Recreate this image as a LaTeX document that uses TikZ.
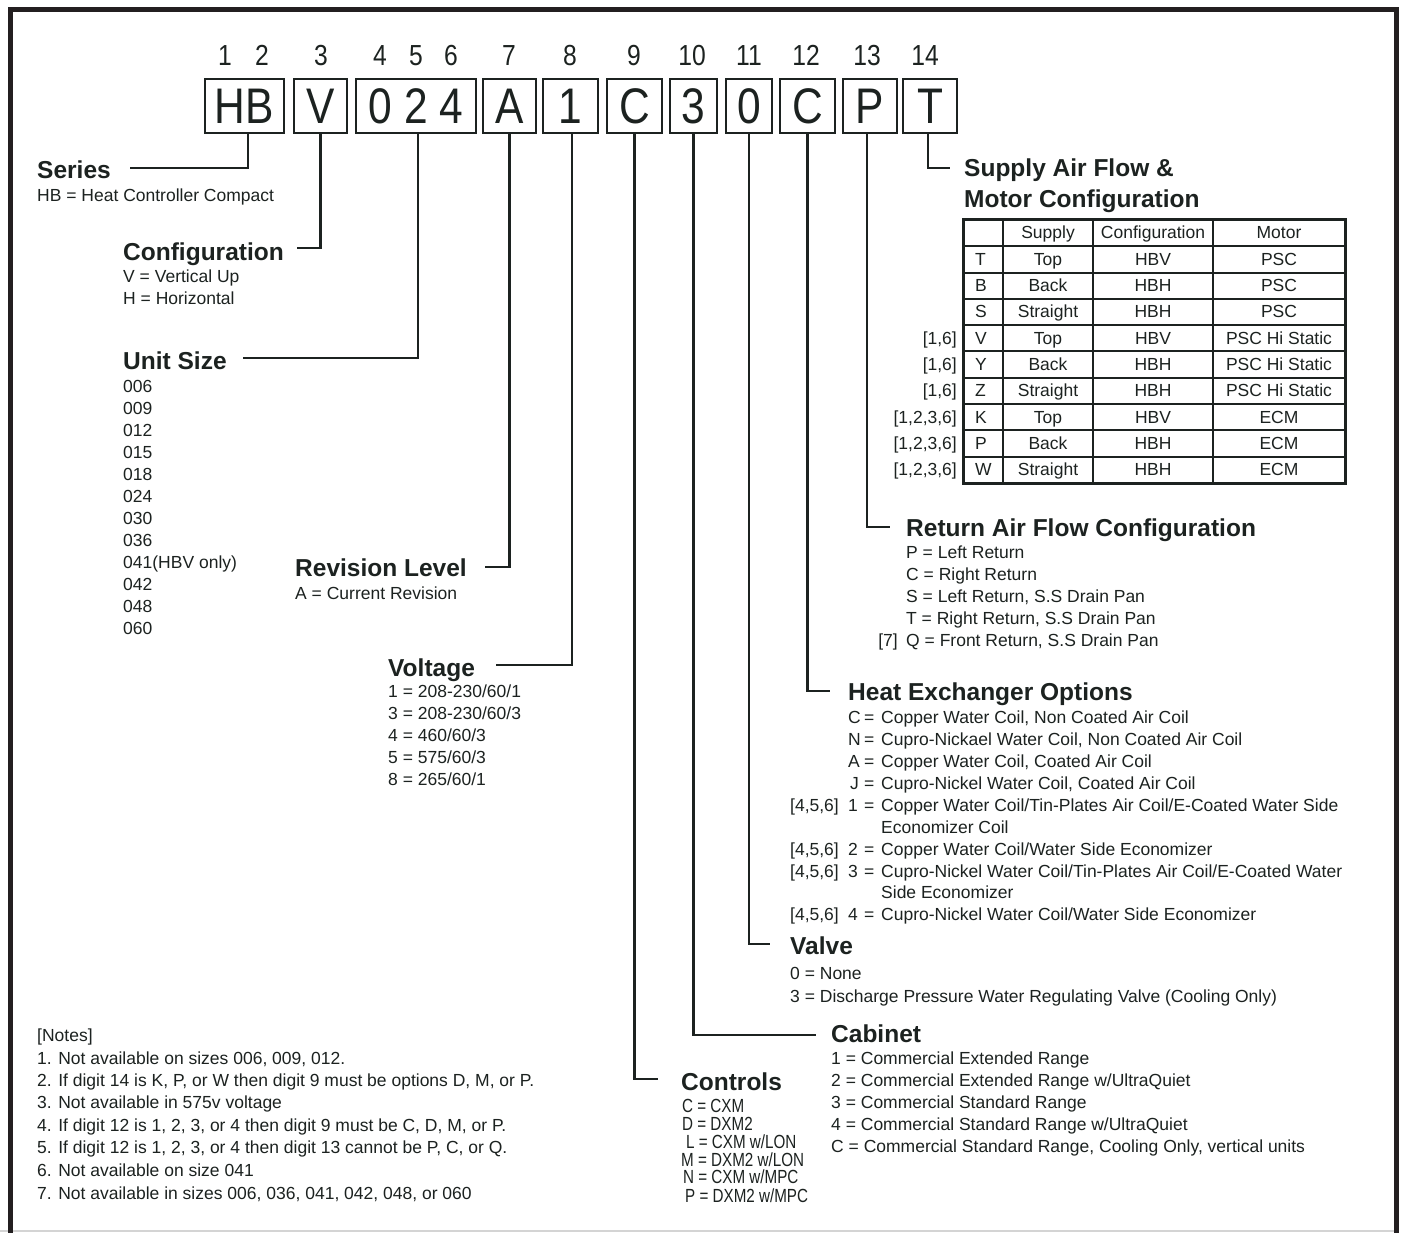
\documentclass[tikz,border=0pt]{standalone}
\usepackage{fontspec}
\setmainfont{Liberation Sans}
\newfontfamily\condfont[FakeStretch=0.85]{Liberation Sans}
\newfontfamily\narrowfont[FakeStretch=0.8]{Liberation Sans}
\definecolor{ink}{RGB}{28,34,32}
\definecolor{framec}{RGB}{35,31,32}
\definecolor{lightrule}{RGB}{212,212,212}
\begin{document}
\begin{tikzpicture}[x=1pt,y=-1pt,
  conn/.style={draw=ink,line width=2.4pt},
  dbox/.style={draw=ink,line width=2.4pt,minimum height=54pt,inner sep=0pt,text=ink,font=\condfont\fontsize{50}{50}\selectfont},
  dnum/.style={anchor=base,text=ink,inner sep=0pt,font=\condfont\fontsize{29}{29}\selectfont},
  hd/.style={anchor=base west,inner sep=0pt,text=ink,font=\fontsize{24.5}{26}\selectfont\bfseries},
  tx/.style={anchor=base west,inner sep=0pt,text=ink,font=\fontsize{17.5}{20}\selectfont},
  txr/.style={tx,anchor=base east},
  txc/.style={tx,anchor=base},
  cx/.style={anchor=base west,inner sep=0pt,text=ink,font=\narrowfont\fontsize{19}{19}\selectfont},
]
\useasboundingbox (0,0) rectangle (1401,1233);
\fill[white] (0,0) rectangle (1401,1233);
% frame
\draw[lightrule,line width=2pt] (0,1231) -- (1394,1231);
\draw[framec,line width=5pt] (10.5,1233) -- (10.5,9.5) -- (1396.5,9.5) -- (1396.5,1233);

% digit numbers
\node[dnum] (n1) at (225,65.5) {1};
\node[dnum] (n2) at (262,65.5) {2};
\node[dnum] (n3) at (321,65.5) {3};
\node[dnum] (n4) at (380,65.5) {4};
\node[dnum] (n5) at (416,65.5) {5};
\node[dnum] (n6) at (451,65.5) {6};
\node[dnum] (n7) at (509,65.5) {7};
\node[dnum] (n8) at (570,65.5) {8};
\node[dnum] (n9) at (634,65.5) {9};
\node[dnum] (n10) at (692,65.5) {10};
\node[dnum] (n11) at (749,65.5) {11};
\node[dnum] (n12) at (806,65.5) {12};
\node[dnum] (n13) at (867,65.5) {13};
\node[dnum] (n14) at (925,65.5) {14};

% code boxes
\node[dbox,minimum width=79pt] (bHB) at (244.5,106) {HB};
\node[dbox,minimum width=53pt] (bV) at (320.5,106) {V};
\node[dbox,minimum width=120pt] (b024) at (416,106) {0 2 4};
\node[dbox,minimum width=53pt] (bA) at (509.5,106) {A};
\node[dbox,minimum width=55pt] (b1) at (570.5,106) {1};
\node[dbox,minimum width=55pt] (bC1) at (634.5,106) {C};
\node[dbox,minimum width=47pt] (b3) at (693.5,106) {3};
\node[dbox,minimum width=46pt] (b0) at (749,106) {0};
\node[dbox,minimum width=55pt] (bC2) at (807.5,106) {C};
\node[dbox,minimum width=54pt] (bP) at (870,106) {P};
\node[dbox,minimum width=54pt] (bT) at (930,106) {T};

% headings
\node[hd] (series) at (37,179) {Series};
\node[hd] (config) at (123,261) {Configuration};
\node[hd] (usize) at (123,370) {Unit Size};
\node[hd] (rev) at (295,576) {Revision Level};
\node[hd] (volt) at (388,676) {Voltage};
\node[hd] (ctrl) at (681,1090) {Controls};
\node[hd] (cab) at (831,1042) {Cabinet};
\node[hd] (valve) at (790,954) {Valve};
\node[hd] (hex) at (848,700) {Heat Exchanger Options};
\node[hd] (ret) at (906,536) {Return Air Flow Configuration};
\node[hd] (sup1) at (964,177) {Supply Air Flow \&};
\node[hd] (sup2) at (964,208) {Motor Configuration};

% connector ends
\coordinate (eSeries) at (130,168);
\coordinate (eConfig) at (297,248);
\coordinate (eUnit) at (243,358);
\coordinate (eRev) at (485,567);
\coordinate (eVolt) at (496,665);
\coordinate (eCtrl) at (658,1079);
\coordinate (eCab) at (816,1035);
\coordinate (eValve) at (770,944);
\coordinate (eHex) at (830,691);
\coordinate (eRet) at (890,527);
\coordinate (eSup) at (950,168);

\draw[conn] ([xshift=3.5pt]bHB.south) |- (eSeries);
\draw[conn] (bV.south) |- (eConfig);
\draw[conn] ([xshift=2pt]b024.south) |- (eUnit);
\draw[conn] (bA.south) |- (eRev);
\draw[conn] ([xshift=1.5pt]b1.south) |- (eVolt);
\draw[conn] (bC1.south) |- (eCtrl);
\draw[conn] (b3.south) |- (eCab);
\draw[conn] (b0.south) |- (eValve);
\draw[conn] (bC2.south) |- (eHex);
\draw[conn] ([xshift=-3pt]bP.south) |- (eRet);
\draw[conn] ([xshift=-2pt]bT.south) |- (eSup);

% series / config
\node[tx] (s1) at (37,202) {HB = Heat Controller Compact};
\node[tx] (c1) at (123,283) {V = Vertical Up};
\node[tx] (c2) at (123,305) {H = Horizontal};

% unit sizes
\foreach \u [count=\i from 0] in {006,009,012,015,018,024,030,036,{041(HBV only)},042,048,060}{
  \node[tx] (u\i) at (123,{392+22*\i}) {\u};
}

% revision
\node[tx] (r1) at (295,599) {A = Current Revision};

% voltage
\foreach \v [count=\i from 0] in {1 = 208-230/60/1,3 = 208-230/60/3,4 = 460/60/3,5 = 575/60/3,8 = 265/60/1}{
  \node[tx] (v\i) at (388,{697+22*\i}) {\v};
}

% controls
\node[cx] (k1) at (682,1112) {C = CXM};
\node[cx] (k2) at (682,1130) {D = DXM2};
\node[cx] (k3) at (686,1148) {L = CXM w/LON};
\node[cx] (k4) at (681,1166) {M = DXM2 w/LON};
\node[cx] (k5) at (683,1183) {N = CXM w/MPC};
\node[cx] (k6) at (685,1202) {P = DXM2 w/MPC};

% cabinet
\foreach \v [count=\i from 0] in {1 = Commercial Extended Range,2 = Commercial Extended Range w/UltraQuiet,3 = Commercial Standard Range,4 = Commercial Standard Range w/UltraQuiet,{C = Commercial Standard Range, Cooling Only, vertical units}}{
  \node[tx] (cb\i) at (831,{1064+22*\i}) {\v};
}

% valve
\node[tx] (va1) at (790,979) {0 = None};
\node[tx] (va2) at (790,1002) {3 = Discharge Pressure Water Regulating Valve (Cooling Only)};

% heat exchanger
\node[tx] (hk1) at (848,723) {C};  \node[tx] (he1) at (864,723) {=}; \node[tx] (hd1) at (881,723) {Copper Water Coil, Non Coated Air Coil};
\node[tx] (hk2) at (848,745) {N};  \node[tx] (he2) at (864,745) {=}; \node[tx] (hd2) at (881,745) {Cupro-Nickael Water Coil, Non Coated Air Coil};
\node[tx] (hk3) at (848,767) {A};  \node[tx] (he3) at (864,767) {=}; \node[tx] (hd3) at (881,767) {Copper Water Coil, Coated Air Coil};
\node[tx] (hk4) at (850,789) {J};  \node[tx] (he4) at (864,789) {=}; \node[tx] (hd4) at (881,789) {Cupro-Nickel Water Coil, Coated Air Coil};
\node[txr] (hb5) at (839,811) {[4,5,6]}; \node[tx] (hk5) at (848,811) {1}; \node[tx] (he5) at (864,811) {=}; \node[tx] (hd5) at (881,811) {Copper Water Coil/Tin-Plates Air Coil/E-Coated Water Side};
\node[tx] (hd5b) at (881,833) {Economizer Coil};
\node[txr] (hb6) at (839,855) {[4,5,6]}; \node[tx] (hk6) at (848,855) {2}; \node[tx] (he6) at (864,855) {=}; \node[tx] (hd6) at (881,855) {Copper Water Coil/Water Side Economizer};
\node[txr] (hb7) at (839,877) {[4,5,6]}; \node[tx] (hk7) at (848,877) {3}; \node[tx] (he7) at (864,877) {=}; \node[tx] (hd7) at (881,877) {Cupro-Nickel Water Coil/Tin-Plates Air Coil/E-Coated Water};
\node[tx] (hd7b) at (881,898) {Side Economizer};
\node[txr] (hb8) at (839,920) {[4,5,6]}; \node[tx] (hk8) at (848,920) {4}; \node[tx] (he8) at (864,920) {=}; \node[tx] (hd8) at (881,920) {Cupro-Nickel Water Coil/Water Side Economizer};

% return air
\node[tx] (ra1) at (906,558) {P = Left Return};
\node[tx] (ra2) at (906,580) {C = Right Return};
\node[tx] (ra3) at (906,602) {S = Left Return, S.S Drain Pan};
\node[tx] (ra4) at (906,624) {T = Right Return, S.S Drain Pan};
\node[txr] (ra5n) at (898,646) {[7]};
\node[tx] (ra5) at (906,646) {Q = Front Return, S.S Drain Pan};

% table
\foreach \i in {1,...,9}{
  \draw[ink,line width=2pt] (963,{220+26.3*\i}) -- (1345,{220+26.3*\i});
}
\foreach \xx in {1003,1093,1213}{
  \draw[ink,line width=2pt] (\xx,220) -- (\xx,483);
}
\draw[ink,line width=3pt] (963,220) rectangle (1345,483);
\node[txc] (th1) at (1048,239) {Supply};
\node[txc] (th2) at (1153,239) {Configuration};
\node[txc] (th3) at (1279,239) {Motor};
\foreach \k/\s/\c/\m [count=\i] in {T/Top/HBV/PSC,B/Back/HBH/PSC,S/Straight/HBH/PSC,V/Top/HBV/PSC Hi Static,Y/Back/HBH/PSC Hi Static,Z/Straight/HBH/PSC Hi Static,K/Top/HBV/ECM,P/Back/HBH/ECM,W/Straight/HBH/ECM}{
  \node[tx] (tk\i) at (975,{239+26.3*\i}) {\k};
  \node[txc] (ts\i) at (1048,{239+26.3*\i}) {\s};
  \node[txc] (tc\i) at (1153,{239+26.3*\i}) {\c};
  \node[txc] (tm\i) at (1279,{239+26.3*\i}) {\m};
}
\node[txr] (tn4) at (957,{239+26.3*4}) {[1,6]};
\node[txr] (tn5) at (957,{239+26.3*5}) {[1,6]};
\node[txr] (tn6) at (957,{239+26.3*6}) {[1,6]};
\node[txr] (tn7) at (957,{239+26.3*7}) {[1,2,3,6]};
\node[txr] (tn8) at (957,{239+26.3*8}) {[1,2,3,6]};
\node[txr] (tn9) at (957,{239+26.3*9}) {[1,2,3,6]};

% notes
\node[tx] (nt0) at (37,1041) {[Notes]};
\node[tx] (nt1) at (37,1064) {1. Not available on sizes 006, 009, 012.};
\node[tx] (nt2) at (37,1086) {2. If digit 14 is K, P, or W then digit 9 must be options D, M, or P.};
\node[tx] (nt3) at (37,1108) {3. Not available in 575v voltage};
\node[tx] (nt4) at (37,1131) {4. If digit 12 is 1, 2, 3, or 4 then digit 9 must be C, D, M, or P.};
\node[tx] (nt5) at (37,1153) {5. If digit 12 is 1, 2, 3, or 4 then digit 13 cannot be P, C, or Q.};
\node[tx] (nt6) at (37,1176) {6. Not available on size 041};
\node[tx] (nt7) at (37,1199) {7. Not available in sizes 006, 036, 041, 042, 048, or 060};
\end{tikzpicture}
\end{document}
